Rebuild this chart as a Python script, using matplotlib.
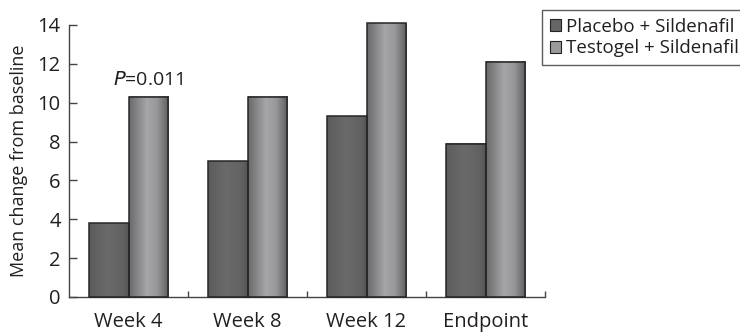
import matplotlib.pyplot as plt
import numpy as np
from matplotlib.colors import LinearSegmentedColormap
from matplotlib.patches import Patch

categories = ["Week 4", "Week 8", "Week 12", "Endpoint"]
placebo = [3.8, 7.0, 9.3, 7.9]
testogel = [10.3, 10.3, 14.1, 12.1]
series_names = ["Placebo + Sildenafil", "Testogel + Sildenafil"]
p_label = "$\\it{P}$=0.011"

plt.rcParams["font.family"] = ["Open Sans", "DejaVu Sans"]
ink = "#231f20"
fs = 14.5

# horizontal shading across each bar (cylinder look)
placebo_cmap = LinearSegmentedColormap.from_list(
    "plc", [(0, "#5c5c5c"), (0.45, "#6a6a6a"), (0.85, "#626262"), (1, "#555555")])
testo_cmap = LinearSegmentedColormap.from_list(
    "tst", [(0, "#6a6a6c"), (0.2, "#858587"), (0.45, "#a6a6a9"), (0.7, "#98989b"),
            (0.88, "#767678"), (1, "#5e5e60")])
grad = np.linspace(0, 1, 64).reshape(1, -1)

fig = plt.figure(figsize=(7.4, 3.34), dpi=100)
ax = fig.add_axes([69 / 740, 37 / 334, 476 / 740, 272 / 334])

x = np.arange(len(categories))
w = 0.336
for vals, off, cmap in [(placebo, -w, placebo_cmap), (testogel, 0, testo_cmap)]:
    bars = ax.bar(x + off, vals, w, align="edge", facecolor="none",
                  edgecolor="#262626", linewidth=1.1, zorder=3, clip_on=False)
    for b in bars:
        x0, h = b.get_x(), b.get_height()
        im = ax.imshow(grad, cmap=cmap, aspect="auto", extent=(x0, x0 + w, 0, h),
                       zorder=2, interpolation="bilinear")
        im.set_clip_on(False)

ax.text(x[0] + w / 2, 11.15, p_label, ha="center", va="center",
        fontsize=14, color=ink)

ax.set_xlim(-0.5, len(categories) - 0.5)
ax.set_ylim(0, 14)
ax.set_yticks(range(0, 15, 2))
ax.set_xticks(x + 0.5)
ax.set_xticklabels([])
ax.set_xticks(x, minor=True)
ax.set_xticklabels(categories, minor=True)
ax.tick_params(axis="x", which="major", direction="in", length=4, width=1, color="#444")
ax.tick_params(axis="x", which="minor", length=0, pad=11, labelsize=fs, labelcolor=ink)
ax.tick_params(axis="y", direction="in", length=6, width=1, color="#444",
               pad=6, labelsize=fs, labelcolor=ink)
ax.set_ylabel("Mean change from baseline", fontsize=13, color=ink, labelpad=7)
for s in ["top", "right"]:
    ax.spines[s].set_visible(False)
for s in ["left", "bottom"]:
    ax.spines[s].set_color("#444")
    ax.spines[s].set_linewidth(1)

handles = [Patch(facecolor="#666666", edgecolor="#222222", linewidth=0.8),
           Patch(facecolor="#9a9a9c", edgecolor="#222222", linewidth=0.8)]
leg = fig.legend(handles, series_names, loc="upper left",
                 bbox_to_anchor=(542 / 740, 1 - 10 / 334), fontsize=13.5,
                 frameon=True, fancybox=False, handlelength=0.6, handleheight=0.6,
                 handletextpad=0.3, borderpad=0.4, labelspacing=0.2,
                 borderaxespad=0, labelcolor=ink)
leg.get_frame().set_edgecolor("#333333")
leg.get_frame().set_linewidth(1)

fig.savefig("out.png", dpi=100)
